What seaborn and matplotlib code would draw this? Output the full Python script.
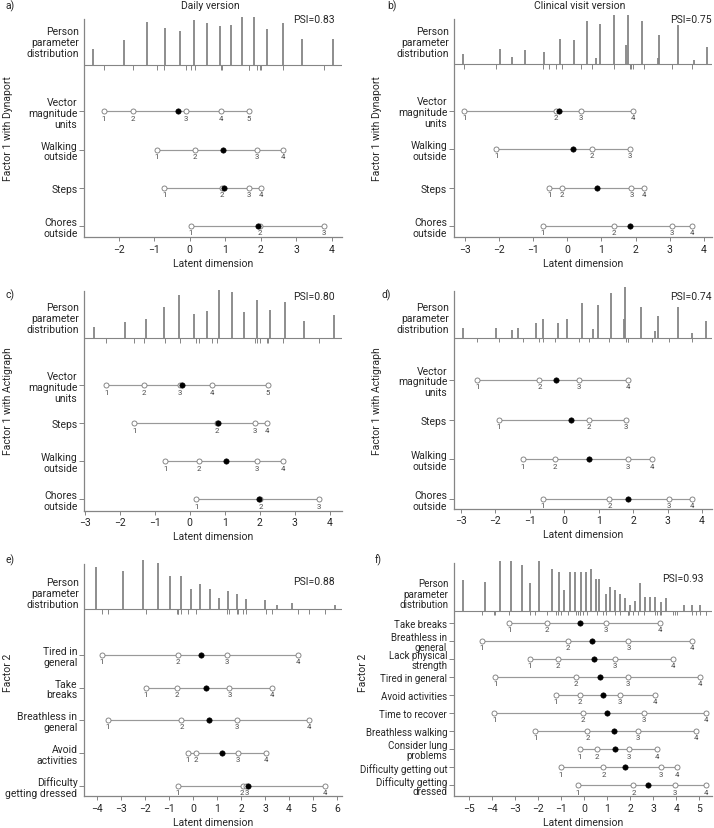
import numpy as np
import pandas as pd
import seaborn as sns
import matplotlib.pyplot as plt

# Person-item threshold maps

# a) daily version, factor 1 with Dynaport
a_items = ["Vector\nmagnitude\nunits", "Walking\noutside", "Steps", "Chores\noutside"]
a_thresholds = [[-2.42, -1.60, -0.10, 0.88, 1.66],
                [-0.93, 0.15, 1.89, 2.63],
                [-0.72, 0.90, 1.66, 2.01],
                [0.03, 1.98, 3.78]]
a_person_loc = [-2.72, -1.84, -1.21, -0.70, -0.27, 0.13, 0.49, 0.84, 1.15, 1.48, 1.80, 2.18, 2.61, 3.15, 4.03]
a_person_freq = [4.8, 7.5, 12.8, 11.0, 10.1, 13.5, 12.7, 11.8, 12.0, 14.3, 14.3, 10.8, 12.7, 7.7, 7.7]

# b) clinical visit version, factor 1 with Dynaport
b_items = ["Vector\nmagnitude\nunits", "Walking\noutside", "Steps", "Chores\noutside"]
b_thresholds = [[-3.03, -0.33, 0.40, 1.92],
                [-2.09, 0.72, 1.83],
                [-0.53, -0.17, 1.88, 2.24],
                [-0.73, 1.36, 3.08, 3.65]]
b_person_loc = [-3.07, -1.97, -1.63, -1.26, -0.69, -0.22, 0.19, 0.58, 0.83, 0.97, 1.36, 1.73, 1.77,
                2.20, 2.66, 2.69, 3.24, 3.71, 4.09]
b_person_freq = [3.1, 4.6, 2.2, 4.3, 3.7, 7.4, 7.2, 12.9, 1.9, 11.9, 14.8, 5.7, 14.8,
                 12.9, 1.8, 8.6, 11.6, 1.3, 5.1]

# c) daily version, factor 1 with Actigraph
c_items = ["Vector\nmagnitude\nunits", "Steps", "Walking\noutside", "Chores\noutside"]
c_thresholds = [[-2.39, -1.30, -0.28, 0.63, 2.24],
                [-1.59, 0.78, 1.86, 2.20],
                [-0.70, 0.27, 1.93, 2.66],
                [0.19, 2.02, 3.69]]
c_person_loc = [-2.73, -1.85, -1.25, -0.74, -0.32, 0.11, 0.48, 0.85, 1.22, 1.56, 1.91, 2.29, 2.72, 3.27, 4.11]
c_person_freq = [3.3, 4.8, 5.8, 9.4, 13.1, 7.3, 8.1, 14.5, 14.0, 7.9, 11.5, 8.6, 10.8, 5.3, 6.9]

# d) clinical visit version, factor 1 with Actigraph
d_items = ["Vector\nmagnitude\nunits", "Steps", "Walking\noutside", "Chores\noutside"]
d_thresholds = [[-2.52, -0.72, 0.42, 1.84],
                [-1.90, 0.71, 1.79],
                [-1.21, -0.28, 1.84, 2.56],
                [-0.63, 1.31, 3.04, 3.70]]
d_person_loc = [-2.94, -1.99, -1.53, -1.34, -0.81, -0.63, -0.18, 0.09, 0.52, 0.83, 0.97, 1.37, 1.73,
                1.77, 2.22, 2.63, 2.71, 3.29, 3.71, 4.13]
d_person_freq = [2.9, 3.1, 2.3, 3.0, 4.4, 5.6, 4.6, 5.6, 10.6, 2.8, 10.0, 13.6, 5.7,
                 15.2, 9.3, 2.0, 6.6, 9.3, 1.4, 5.2]

# e) daily version, factor 2
e_items = ["Tired in\ngeneral", "Take\nbreaks", "Breathless in\ngeneral", "Avoid\nactivities",
           "Difficulty\ngetting dressed"]
e_thresholds = [[-3.80, -0.63, 1.43, 4.39],
                [-1.96, -0.68, 1.52, 3.30],
                [-3.56, -0.48, 1.83, 4.83],
                [-0.22, 0.11, 1.87, 3.06],
                [-0.63, 2.07, 2.21, 5.50]]
e_person_loc = [-4.06, -2.93, -2.09, -1.47, -0.97, -0.51, -0.09, 0.29, 0.70, 1.07, 1.44, 1.82, 2.19,
                3.01, 3.51, 4.11, 5.90]
e_person_freq = [12.5, 11.3, 14.7, 13.8, 9.8, 10.0, 6.1, 7.5, 6.1, 3.4, 5.4, 4.5, 2.9, 2.8, 1.2, 1.8, 1.2]

# f) clinical visit version, factor 2
f_items = ["Take breaks", "Breathless in\ngeneral", "Lack physical\nstrength", "Tired in general",
           "Avoid activities", "Time to recover", "Breathless walking", "Consider lung\nproblems",
           "Difficulty getting out", "Difficulty getting\ndressed"]
f_thresholds = [[-3.25, -1.63, 0.95, 3.28],
                [-4.45, -0.72, 1.92, 4.68],
                [-2.37, -1.16, 1.33, 3.87],
                [-3.87, -0.37, 1.90, 5.01],
                [-1.24, -0.18, 1.54, 3.06],
                [-3.90, -0.07, 2.61, 5.28],
                [-2.12, 0.14, 2.34, 4.87],
                [-0.20, 0.54, 1.95, 3.14],
                [-1.02, 0.83, 3.32, 4.03],
                [-0.27, 2.14, 3.93, 5.30]]
f_person_loc = [-5.25, -4.31, -3.68, -3.16, -2.71, -2.34, -1.98, -1.38, -1.11, -0.88, -0.60, -0.38,
                -0.15, 0.07, 0.28, 0.50, 0.66, 0.94, 1.14, 1.35, 1.56, 1.76, 1.97, 2.19, 2.42, 2.63,
                2.85, 3.06, 3.32, 3.55, 4.35, 4.68, 5.04]
f_person_freq = [9.3, 8.5, 14.8, 14.8, 13.7, 8.3, 14.8, 12.5, 11.6, 6.2, 11.5, 11.6, 11.6, 11.6, 12.5,
                 9.5, 9.5, 4.9, 7.0, 6.3, 5.0, 3.7, 1.6, 3.0, 8.3, 4.0, 4.0, 4.0, 2.7, 3.8, 1.7, 1.7, 1.7]

psi = ["PSI=0.83", "PSI=0.75", "PSI=0.80", "PSI=0.74", "PSI=0.88", "PSI=0.93"]
titles = ["Daily version", "Clinical visit version"]
factor_labels = ["Factor 1 with Dynaport", "Factor 1 with Dynaport", "Factor 1 with Actigraph",
                 "Factor 1 with Actigraph", "Factor 2", "Factor 2"]

sns.set_theme(style="white")
plt.rcParams["font.family"] = ["Roboto", "DejaVu Sans"]

W, H = 714, 829
fig = plt.figure(figsize=(W / 100, H / 100), dpi=100)
txt = "#262626"
gray = "#858585"


def px_rect(l, t, r, b):
    return [l / W, 1 - b / H, (r - l) / W, (b - t) / H]


def spread(xs, gap):
    # push neighbouring category labels apart so they don't print on top of each other
    xs = list(xs)
    for i in range(1, len(xs)):
        if xs[i] - xs[i - 1] < gap:
            mid = (xs[i] + xs[i - 1]) / 2
            xs[i - 1], xs[i] = mid - gap / 2, mid + gap / 2
    return xs


# layout of each panel: axes box in pixels, x range, y range in item rows
panels = [
    dict(items=a_items, thr=a_thresholds, loc=a_person_loc, freq=a_person_freq,
         box=(84, 20, 342, 238.3), xlim=(-2.97, 4.28), base=-1.214, top=-2.42, bottom=3.30, frac=0.5,
         psi=(0.973, 1.0), letter=(5, 6), ylab=(8, 129)),
    dict(items=b_items, thr=b_thresholds, loc=b_person_loc, freq=b_person_freq,
         box=(453.7, 20, 712, 238.3), xlim=(-3.34, 4.245), base=-1.215, top=-2.39, bottom=3.29, frac=0.49,
         psi=(1.0, 1.0), letter=(387, 6), ylab=(377, 129)),
    dict(items=c_items, thr=c_thresholds, loc=c_person_loc, freq=c_person_freq,
         box=(84, 291.7, 342, 511.7), xlim=(-3.02, 4.35), base=-1.237, top=-2.49, bottom=3.30, frac=0.43,
         psi=(0.973, 0.977), letter=(5, 295), ylab=(8, 401)),
    dict(items=d_items, thr=d_thresholds, loc=d_person_loc, freq=d_person_freq,
         box=(453.7, 291.7, 712, 510), xlim=(-3.21, 4.29), base=-1.06, top=-2.25, bottom=3.25, frac=0.42,
         psi=(1.0, 0.976), letter=(382, 295), ylab=(377, 401)),
    dict(items=e_items, thr=e_thresholds, loc=e_person_loc, freq=e_person_freq,
         box=(84, 565, 342, 797.3), xlim=(-4.54, 6.21), base=-1.395, top=-2.77, bottom=4.32, frac=0.36,
         psi=(0.973, 0.928), letter=(5, 560), ylab=(8, 673)),
    dict(items=f_items, thr=f_thresholds, loc=f_person_loc, freq=f_person_freq,
         box=(453.7, 564.3, 712, 797.3), xlim=(-5.67, 5.55), base=-0.70, top=-3.33, bottom=9.61, frac=0.36,
         psi=(0.968, 0.937), letter=(375, 560), ylab=(363, 673)),
]

for n_p, p in enumerate(panels):
    l, t, r, b = p["box"]
    ax = fig.add_axes(px_rect(l, t, r, b))
    x0, x1 = p["xlim"]
    ppu_y = (b - t) / (p["bottom"] - p["top"])
    ppu_x = (r - l) / (x1 - x0)
    base = p["base"]

    rows = []
    for i, th in enumerate(p["thr"]):
        for k, v in enumerate(th):
            rows.append({"item": i, "cat": k + 1, "threshold": v})
    df = pd.DataFrame(rows)
    loc = df.groupby("item", as_index=False)["threshold"].mean()
    span = df.groupby("item")["threshold"].agg(["min", "max"])

    # person parameter distribution on top, threshold ticks under its baseline
    ax.axhline(base, color=gray, lw=0.8, zorder=1)
    heights = np.array(p["freq"]) * 10 / 3 / ppu_y
    ax.vlines(p["loc"], base, base - heights, color=gray, lw=1.3, clip_on=False, zorder=2)
    ax.vlines(df["threshold"], base, base + 4.5 / ppu_y, color=gray, lw=0.7, zorder=1)

    # item thresholds
    ax.hlines(span.index, span["min"], span["max"], color="#999999", lw=0.85, zorder=2)
    sns.scatterplot(data=df, x="threshold", y="item", ax=ax, s=13, color="white",
                    edgecolor="#808080", linewidth=0.65, zorder=3, legend=False)
    sns.scatterplot(data=loc, x="threshold", y="item", ax=ax, s=15, color="black",
                    edgecolor="black", linewidth=0.4, zorder=4, legend=False)
    for i, th in enumerate(p["thr"]):
        for k, x in enumerate(spread(th, 5 / ppu_x)):
            ax.text(x, i + 6.2 / ppu_y, str(k + 1), ha="center", va="center", fontsize=5.6, color="#4a4a4a")

    ax.set_xlim(x0, x1)
    ax.set_ylim(p["bottom"], p["top"])
    ax.set_xticks(range(int(np.ceil(x0)), int(np.floor(x1)) + 1))
    ax.tick_params(axis="x", labelsize=7.5, labelcolor=txt, length=3, width=0.7, color=gray, pad=1.5, bottom=True)
    small = n_p == 5
    ax.set_yticks(range(len(p["items"])))
    ax.set_yticklabels(p["items"], fontsize=7 if small else 7.5, color=txt, linespacing=0.95 if small else 1.1)
    ax.tick_params(axis="y", length=3.5, width=0.7, color=gray, pad=1.2, left=True)
    for s in ["top", "right"]:
        ax.spines[s].set_visible(False)
    for s in ["left", "bottom"]:
        ax.spines[s].set_color(gray)
        ax.spines[s].set_linewidth(0.9)

    ax.set_ylabel("")
    ax.set_xlabel("Latent dimension", fontsize=7.5, color=txt)
    ax.xaxis.set_label_coords(0.5, -20.5 / (b - t))

    ax.annotate("Person\nparameter\ndistribution", xy=(0, base - p["frac"] * (base - p["top"])),
                xycoords=("axes fraction", "data"), xytext=(-3.6, 0), textcoords="offset points",
                ha="right", va="center", fontsize=7 if small else 7.5, color=txt, linespacing=1.1)
    ax.text(p["psi"][0], p["psi"][1], psi[n_p], transform=ax.transAxes, ha="right", va="center",
            fontsize=7.5, color=txt)

    lx, ly = p["letter"]
    fig.text(lx / W, 1 - ly / H, "abcdef"[n_p] + ")", ha="left", va="center", fontsize=7.5, color=txt)
    yx, yy = p["ylab"]
    fig.text(yx / W, 1 - yy / H, factor_labels[n_p], rotation=90, ha="center", va="center",
             fontsize=7.5, color=txt)

fig.text(210 / W, 1 - 6 / H, titles[0], ha="center", va="center", fontsize=7.5, color=txt)
fig.text(580 / W, 1 - 6 / H, titles[1], ha="center", va="center", fontsize=7.5, color=txt)

fig.savefig("out.png", dpi=100)
